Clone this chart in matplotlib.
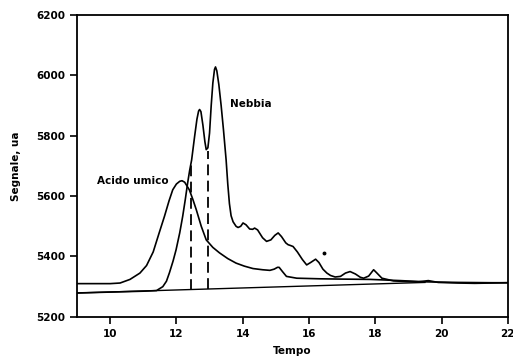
# Cromatogramma: acido umico vs nebbia
import matplotlib
matplotlib.use("Agg")
import matplotlib.pyplot as plt

plt.rcParams['font.family'] = ['DejaVu Sans']
plt.rcParams['font.weight'] = 'bold'
plt.rcParams['axes.labelweight'] = 'bold'

# Dati
t_umico = [9.0, 10.0, 10.3, 10.6, 10.9, 11.1, 11.3, 11.48, 11.64, 11.78, 11.89, 12.0, 12.1,
           12.17, 12.25, 12.39, 12.5, 12.6, 12.75, 12.9, 13.1, 13.3, 13.55, 13.8, 14.05,
           14.31, 14.6, 14.82, 14.95, 15.05, 15.1, 15.2, 15.32, 15.63, 16.33, 17.0, 17.85,
           18.76, 19.5, 20.5, 21.5, 22.0]
s_umico = [5310, 5310, 5312, 5324, 5345, 5370, 5415, 5478, 5533, 5585, 5621, 5640, 5649,
           5651, 5646, 5621, 5588, 5555, 5500, 5455, 5430, 5412, 5393, 5378, 5368,
           5360, 5356, 5354, 5358, 5364, 5364, 5350, 5334, 5328, 5326, 5325, 5324,
           5320, 5316, 5314, 5313, 5313]

t_nebbia = [9.0, 10.0, 11.0, 11.4, 11.59, 11.7, 11.79, 11.9, 11.99, 12.1, 12.19, 12.27,
            12.34, 12.4, 12.46, 12.55, 12.62, 12.67, 12.7, 12.74, 12.8, 12.86, 12.9, 12.95,
            13.0, 13.05, 13.1, 13.15, 13.18, 13.22, 13.28, 13.35, 13.42, 13.5, 13.55, 13.6,
            13.65, 13.71, 13.8, 13.86, 13.94, 14.01, 14.1, 14.21, 14.3, 14.36, 14.45, 14.6,
            14.72, 14.85, 14.97, 15.07, 15.17, 15.3, 15.37, 15.45, 15.52, 15.65, 15.8,
            15.93, 16.05, 16.2, 16.3, 16.42, 16.54, 16.65, 16.79, 16.95, 17.1, 17.24,
            17.4, 17.55, 17.65, 17.8, 17.95, 18.05, 18.2, 18.55, 18.96, 19.3, 19.6, 19.9,
            20.5, 21.0, 21.5, 22.0]
s_nebbia = [5279, 5282, 5285, 5287, 5300, 5318, 5346, 5385, 5422, 5478, 5533, 5590,
            5644, 5685, 5720, 5798, 5855, 5882, 5887, 5880, 5835, 5780, 5754, 5760,
            5809, 5900, 5975, 6020, 6028, 6015, 5970, 5900, 5820, 5720, 5640, 5575,
            5535, 5515, 5500, 5496, 5500, 5511, 5505, 5491, 5490, 5494, 5488, 5462,
            5450, 5455, 5470, 5478, 5466, 5445, 5439, 5436, 5433, 5415, 5390,
            5372, 5380, 5391, 5380, 5358, 5345, 5337, 5332, 5334, 5345, 5350,
            5342, 5331, 5328, 5335, 5356, 5345, 5328, 5319, 5317, 5316, 5320, 5314,
            5312, 5311, 5312, 5313]

# Linea di base e tratteggi
t_base = [9.0, 19.5]
s_base = [5279, 5314]
t_tratt = [12.44, 12.96]
s_tratt_basso = [5290, 5292]
s_tratt_alto = [5712, 5750]

fig = plt.figure(figsize=(5.13, 3.58), dpi=100)
ax = fig.add_axes([0.150, 0.115, 0.840, 0.843])

ax.plot(t_umico, s_umico, color='black', lw=1.2)
ax.plot(t_nebbia, s_nebbia, color='black', lw=1.2)
ax.plot(t_base, s_base, color='black', lw=1.0)
for x, y0, y1 in zip(t_tratt, s_tratt_basso, s_tratt_alto):
    ax.plot([x, x], [y0, y1], color='black', lw=1.3, dashes=(6, 3))
ax.plot([16.45], [5410], 'o', color='black', ms=1.8)

ax.text(10.7, 5650, 'Acido umico', ha='center', va='center', fontsize=7.5)
ax.text(13.63, 5906, 'Nebbia', ha='left', va='center', fontsize=7.5)

ax.set_xlim(9, 22)
ax.set_ylim(5200, 6200)
ax.set_xticks([10, 12, 14, 16, 18, 20, 22])
ax.set_yticks([5200, 5400, 5600, 5800, 6000, 6200])
ax.tick_params(direction='out', length=5, width=1.2, labelsize=7.5, top=False, right=False)
for s in ax.spines.values():
    s.set_linewidth(1.3)

ax.set_xlabel('Tempo', fontsize=7.5, labelpad=5)
ax.set_ylabel('Segnale, ua', fontsize=7.5, labelpad=11)

fig.savefig('out.png', dpi=100)
